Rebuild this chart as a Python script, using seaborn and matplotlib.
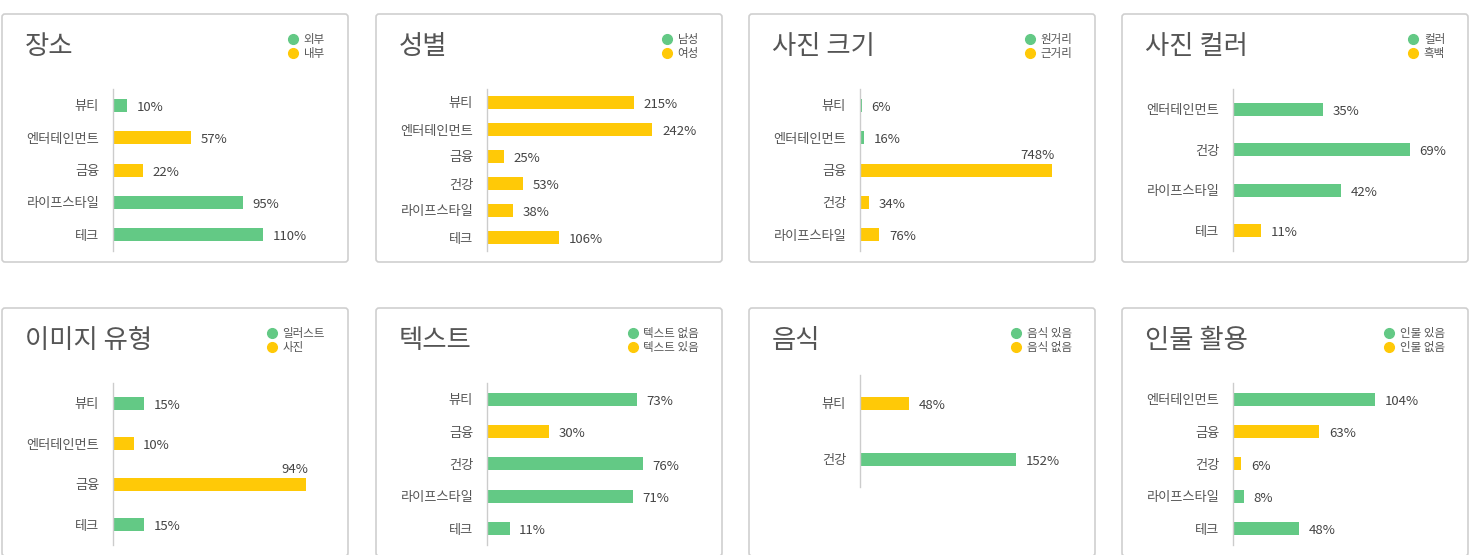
import matplotlib
matplotlib.use("Agg")
import matplotlib.pyplot as plt
import seaborn as sns
import pandas as pd
from matplotlib.patches import FancyBboxPatch
from matplotlib.lines import Line2D

# Daten
titles = ["장소", "성별", "사진 크기", "사진 컬러", "이미지 유형", "텍스트", "음식", "인물 활용"]
legends = [
    ["외부", "내부"],
    ["남성", "여성"],
    ["원거리", "근거리"],
    ["컬러", "흑백"],
    ["일러스트", "사진"],
    ["텍스트 없음", "텍스트 있음"],
    ["음식 있음", "음식 없음"],
    ["인물 있음", "인물 없음"],
]
categories = [
    ["뷰티", "엔터테인먼트", "금융", "라이프스타일", "테크"],
    ["뷰티", "엔터테인먼트", "금융", "건강", "라이프스타일", "테크"],
    ["뷰티", "엔터테인먼트", "금융", "건강", "라이프스타일"],
    ["엔터테인먼트", "건강", "라이프스타일", "테크"],
    ["뷰티", "엔터테인먼트", "금융", "테크"],
    ["뷰티", "금융", "건강", "라이프스타일", "테크"],
    ["뷰티", "건강"],
    ["엔터테인먼트", "금융", "건강", "라이프스타일", "테크"],
]
values = [
    [10, 57, 22, 95, 110],
    [215, 242, 25, 53, 38, 106],
    [6, 16, 748, 34, 76],
    [35, 69, 42, 11],
    [15, 10, 94, 15],
    [73, 30, 76, 71, 11],
    [48, 152],
    [104, 63, 6, 8, 48],
]
# 0 = erste Legendenfarbe (grün), 1 = zweite (gelb)
groups = [
    [0, 1, 1, 0, 0],
    [1, 1, 1, 1, 1, 1],
    [0, 0, 1, 1, 1],
    [0, 0, 0, 1],
    [0, 1, 1, 0],
    [0, 1, 0, 0, 0],
    [1, 0],
    [0, 1, 1, 0, 0],
]
x_max = [150, 300, 800, 80, 100, 100, 200, 150]

GREEN = "#63C985"
YELLOW = "#FFC907"
TEXT = "#555555"

sns.set_theme(style="white")
plt.rcParams["font.family"] = ["Noto Sans CJK KR", "DejaVu Sans"]

W, H = 1470, 555
fig = plt.figure(figsize=(W / 100, H / 100), dpi=100)

# Overlay in Pixel-Koordinaten für Rahmen und Titel
bg = fig.add_axes([0, 0, 1, 1])
bg.set_xlim(0, W)
bg.set_ylim(H, 0)
bg.axis("off")

panel_left = [2, 376, 749, 1122]
row_top = [14, 308]
panel_w, panel_h = 346, 248

for k in range(8):
    px = panel_left[k % 4]
    py = row_top[k // 4]

    box = FancyBboxPatch((px, py), panel_w, panel_h,
                         boxstyle="round,pad=0,rounding_size=3",
                         facecolor="white", edgecolor="#cfcfcf", linewidth=1.2)
    bg.add_patch(box)
    bg.text(px + 23, py + 33, titles[k], fontsize=19, color=TEXT,
            ha="left", va="center", fontweight="light")

    # Plotbereich
    if len(categories[k]) > 2:
        top_off, plot_h = 75, 162
    else:
        top_off, plot_h = 67, 112
    left = px + 111
    plot_w = 205
    ax = fig.add_axes([left / W, 1 - (py + top_off + plot_h) / H, plot_w / W, plot_h / H])
    ax.patch.set_alpha(0)

    n = len(categories[k])
    df = pd.DataFrame({
        "cat": categories[k],
        "val": values[k],
        "grp": [legends[k][g] for g in groups[k]],
    })
    bar_w = 13 / (plot_h / n)
    sns.barplot(data=df, x="val", y="cat", hue="grp", order=categories[k],
                hue_order=legends[k], palette={legends[k][0]: GREEN, legends[k][1]: YELLOW},
                dodge=False, width=bar_w, orient="h", ax=ax, legend=False,
                linewidth=0, saturation=1)
    ax.set_xlim(0, x_max[k])
    ax.set_ylim(n - 0.5, -0.5)

    for i, v in enumerate(values[k]):
        if v / x_max[k] > 0.9:
            ax.annotate(f"{v}%", xy=(v, i - bar_w / 2), xytext=(2, 1),
                        textcoords="offset points", ha="right", va="bottom",
                        fontsize=9.5, color="#444444")
        else:
            ax.annotate(f"{v}%", xy=(v, i), xytext=(7, -1.5),
                        textcoords="offset points", ha="left", va="center",
                        fontsize=9.5, color="#444444")

    for s in ["top", "right", "bottom"]:
        ax.spines[s].set_visible(False)
    ax.spines["left"].set_color("#cccccc")
    ax.spines["left"].set_linewidth(1)
    ax.set_xticks([])
    ax.set_xlabel("")
    ax.set_ylabel("")
    ax.tick_params(axis="y", length=0, pad=10, labelsize=9.5, labelcolor=TEXT)

    # Legende oben rechts
    handles = [Line2D([], [], marker="o", linestyle="", markersize=7,
                      markerfacecolor=c, markeredgecolor=c) for c in (GREEN, YELLOW)]
    ax.legend(handles, legends[k], loc="upper right",
              bbox_to_anchor=(px + panel_w - 23, py + 19),
              bbox_transform=bg.transData, frameon=False, fontsize=8.3,
              labelcolor=TEXT, handlelength=0.8, handletextpad=0.5,
              labelspacing=0.05, borderpad=0, borderaxespad=0)

fig.savefig("out.png", dpi=100)
